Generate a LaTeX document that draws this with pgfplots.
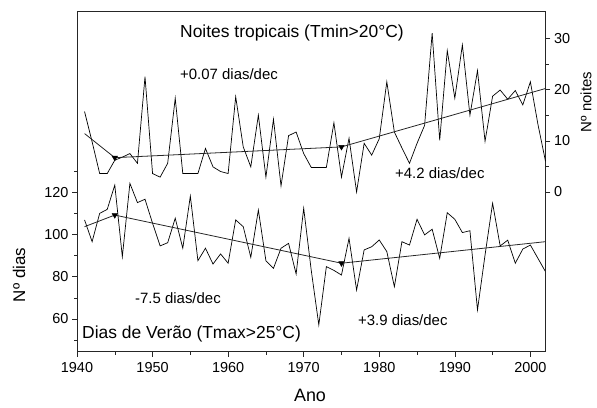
\documentclass[border=0pt]{standalone}
\usepackage{pgfplots}
\usepackage{pgfplotstable}
\pgfplotsset{compat=1.18}
\usepackage{fontspec}
\setmainfont{Liberation Sans}

\pgfplotstableread{
year v
1941 15.7
1942 9.8
1943 3.6
1944 3.6
1945 6.2
1946 6.8
1947 7.5
1948 5.6
1949 22.5
1950 3.6
1951 2.9
1952 5.6
1953 18.3
1954 3.6
1955 3.6
1956 3.6
1957 8.5
1958 4.9
1959 4.0
1960 3.6
1961 18.6
1962 8.8
1963 4.9
1964 15.0
1965 2.9
1966 14.2
1967 1.2
1968 11.0
1969 11.7
1970 7.5
1971 4.8
1972 4.8
1973 4.8
1974 13.5
1975 2.9
1976 10.5
1977 0.0
1978 9.5
1979 7.2
1980 10.4
1981 21.5
1982 11.7
1983 8.6
1984 5.6
1985 9.5
1986 13.0
1987 31.0
1988 10.1
1989 27.6
1990 18.3
1991 28.7
1992 15.0
1993 23.7
1994 9.9
1995 18.7
1996 19.9
1997 18.1
1998 19.8
1999 17.0
2000 21.5
2001 13.2
2002 6.0
}\noites

\pgfplotstableread{
year v
1941 106.9
1942 96.6
1943 110.0
1944 111.9
1945 123.4
1946 89.5
1947 124.2
1948 115.1
1949 116.7
1950 105.3
1951 94.6
1952 96.1
1953 107.7
1954 93.5
1955 118.2
1956 87.6
1957 93.5
1958 86.0
1959 90.8
1960 86.4
1961 106.9
1962 103.7
1963 89.2
1964 111.6
1965 87.6
1966 84.0
1967 93.5
1968 95.8
1969 81.3
1970 112.4
1971 83.0
1972 57.2
1973 84.8
1974 83.0
1975 80.8
1976 98.2
1977 73.7
1978 92.7
1979 94.2
1980 97.4
1981 91.9
1982 75.3
1983 96.6
1984 95.0
1985 107.2
1986 99.8
1987 102.5
1988 88.7
1989 110.3
1990 107.2
1991 100.9
1992 101.8
1993 64.3
1994 90.3
1995 114.8
1996 94.6
1997 97.3
1998 86.4
1999 93.1
2000 95.0
2001 88.7
2002 82.4
}\dias

\pgfplotsset{
  base/.style={
    scale only axis, width=468.5bp, height=340bp,
    xmin=1940, xmax=2002,
    axis line style={line width=0.6pt, black!85},
    every tick/.style={line width=0.5pt, black!85},
    tick align=outside,
    major tick length=5bp, minor tick length=3bp,
    /pgf/number format/assume math mode=true,
    tick label style={font=\fontsize{14.5}{16}\selectfont},
    clip=false,
  },
  dataline/.style={black, line width=0.7pt},
  trend/.style={black!85, line width=0.8pt},
  tri/.style={only marks, mark=triangle*, mark size=3.2pt, mark options={rotate=180, fill=black, draw=black}},
}

\begin{document}
\begin{tikzpicture}
\useasboundingbox (-77bp,-56.3bp) rectangle (520bp,351.7bp);

\begin{axis}[base,
  xtick={1940,1950,...,2000},
  minor xtick={1945,1955,...,1995},
  xticklabel style={/pgf/number format/1000 sep={}, yshift=-2bp},
  ymin=44.5, ymax=205.5,
  ytick={60,80,100,120},
  minor ytick={50,70,90,110,130},
  xtick pos=lower, ytick pos=left,
]
\addplot[dataline] table[x=year,y=v]{\dias};
\addplot[trend] coordinates {(1941,103.7) (1945,109.2) (1975,86.4) (2002,96.6)};
\addplot[tri] coordinates {(1945,109.2) (1975,86.4)};
\end{axis}

\begin{axis}[base,
  ymin=-31.17, ymax=35.19,
  axis x line=none,
  axis y line*=right,
  ytick={0,10,20,30},
  minor ytick={5,15,25},
]
\addplot[dataline] table[x=year,y=v]{\noites};
\addplot[trend] coordinates {(1941,11.4) (1945,6.7) (1975,8.8) (2002,20.2)};
\addplot[tri] coordinates {(1945,6.7) (1975,8.8)};
\end{axis}

\node[anchor=west, inner sep=0pt, font=\fontsize{17.5}{20}\selectfont] at (103bp,319.2bp) {Noites tropicais (Tmin>20°C)};
\node[anchor=west, inner sep=0pt, font=\fontsize{15}{18}\selectfont] at (103bp,277.2bp) {+0.07 dias/dec};
\node[anchor=west, inner sep=0pt, font=\fontsize{15}{18}\selectfont] at (318bp,178.7bp) {+4.2 dias/dec};
\node[anchor=west, inner sep=0pt, font=\fontsize{15}{18}\selectfont] at (58bp,53.7bp) {-7.5 dias/dec};
\node[anchor=west, inner sep=0pt, font=\fontsize{15}{18}\selectfont] at (281bp,31.7bp) {+3.9 dias/dec};
\node[anchor=west, inner sep=0pt, font=\fontsize{17.5}{20}\selectfont] at (5bp,18.2bp) {Dias de Verão (Tmax>25°C)};
\node[inner sep=0pt, font=\fontsize{18}{20}\selectfont] at (233bp,-44bp) {Ano};
\node[inner sep=0pt, rotate=90, font=\fontsize{17}{20}\selectfont] at (-58bp,76.7bp) {Nº dias};
\node[inner sep=0pt, rotate=90, font=\fontsize{15}{16}\selectfont] at (509bp,249.7bp) {Nº noites};
\end{tikzpicture}
\end{document}
